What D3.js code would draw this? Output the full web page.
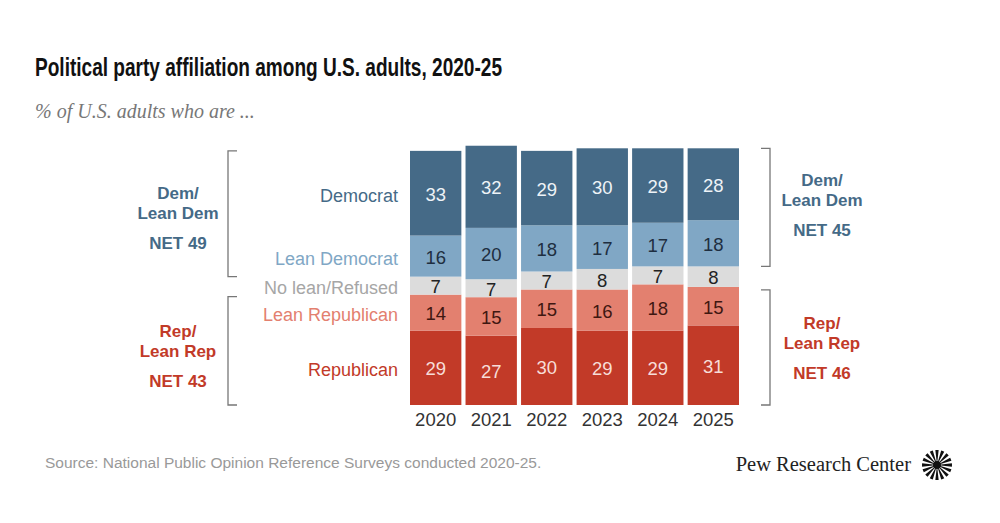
<!DOCTYPE html>
<html>
<head>
<meta charset="utf-8">
<script src="https://cdn.jsdelivr.net/npm/d3@7"></script>
<style>
  body { margin: 0; background: #fff; }
  svg text { font-family: "Liberation Sans", Arial, sans-serif; }
</style>
</head>
<body>
<script>

// chart data
var years = ["2020", "2021", "2022", "2023", "2024", "2025"];
var categories = ["Democrat", "Lean Democrat", "No lean/Refused", "Lean Republican", "Republican"];
var democrat = [33, 32, 29, 30, 29, 28];
var leanDemocrat = [16, 20, 18, 17, 17, 18];
var noLean = [7, 7, 7, 8, 7, 8];
var leanRepublican = [14, 15, 15, 16, 18, 15];
var republican = [29, 27, 30, 29, 29, 31];
var netDem = [49, 45];
var netRep = [43, 46];

var width = 1000, height = 523;

// colours for each category
var fills = ["#456a87", "#80a7c5", "#dcdcdc", "#e3806f", "#c23a28"];
var labelColors = ["#456a87", "#80a7c5", "#a6a6a6", "#e3806f", "#c23a28"];
var valueColors = ["#eef3f7", "#1e2e40", "#222222", "#3f1711", "#f7ddd8"];

var svg = d3.select("body").append("svg")
  .attr("width", width)
  .attr("height", height);

// title and subtitle
svg.append("text")
  .attr("x", 35).attr("y", 76)
  .style("font-family", "'Liberation Sans Narrow', 'Liberation Sans', sans-serif")
  .style("font-weight", "bold")
  .style("font-size", "26px")
  .attr("fill", "#111")
  .attr("textLength", 467)
  .attr("lengthAdjust", "spacingAndGlyphs")
  .text("Political party affiliation among U.S. adults, 2020-25");

svg.append("text")
  .attr("x", 35).attr("y", 118)
  .style("font-family", "'Liberation Serif', 'DejaVu Serif', serif")
  .style("font-style", "italic")
  .style("font-size", "20px")
  .attr("fill", "#777")
  .text("% of U.S. adults who are ...");

// build stacked rows: one object per year
var rows = years.map(function(y, i) {
  return {
    year: y,
    "Democrat": democrat[i],
    "Lean Democrat": leanDemocrat[i],
    "No lean/Refused": noLean[i],
    "Lean Republican": leanRepublican[i],
    "Republican": republican[i]
  };
});

// stack from the bottom: republican first
var stackOrder = categories.slice().reverse();
var stacked = d3.stack().keys(stackOrder)(rows);

var baseline = 405;
var yScale = d3.scaleLinear().domain([0, 100]).range([baseline, baseline - 256.7]);
var xScale = d3.scaleBand().domain(years).range([410, 739]).paddingInner(0.075).paddingOuter(0);

var layers = svg.selectAll("g.layer")
  .data(stacked)
  .enter().append("g")
  .attr("class", "layer");

layers.selectAll("rect")
  .data(function(d) { return d.map(function(p) { p.key = d.key; return p; }); })
  .enter().append("rect")
  .attr("x", function(d) { return xScale(d.data.year); })
  .attr("y", function(d) { return yScale(d[1]); })
  .attr("width", xScale.bandwidth())
  .attr("height", function(d) { return yScale(d[0]) - yScale(d[1]); })
  .attr("fill", function(d) { return fills[categories.indexOf(d.key)]; });

layers.selectAll("text")
  .data(function(d) { return d; })
  .enter().append("text")
  .attr("x", function(d) { return xScale(d.data.year) + xScale.bandwidth() / 2; })
  .attr("y", function(d) { return (yScale(d[0]) + yScale(d[1])) / 2 + 1; })
  .attr("dy", "0.36em")
  .attr("text-anchor", "middle")
  .style("font-size", "18.5px")
  .attr("fill", function(d) { return valueColors[categories.indexOf(d.key)]; })
  .text(function(d) { return d[1] - d[0]; });

// year axis
var xAxis = d3.axisBottom(xScale).tickSize(0).tickPadding(8);
var axisG = svg.append("g")
  .attr("transform", "translate(0," + baseline + ")")
  .call(xAxis);
axisG.select(".domain").remove();
axisG.selectAll("text")
  .style("font-family", "'Liberation Sans', Arial, sans-serif")
  .style("font-size", "18.5px")
  .attr("fill", "#333");

// category labels next to the first bar
var first = years[0];
svg.selectAll("text.catLabel")
  .data(stacked)
  .enter().append("text")
  .attr("class", "catLabel")
  .attr("x", 398)
  .attr("y", function(d) {
    var p = d.find(function(e) { return e.data.year === first; });
    return (yScale(p[0]) + yScale(p[1])) / 2 + 2;
  })
  .attr("dy", "0.36em")
  .attr("text-anchor", "end")
  .style("font-size", "18px")
  .attr("fill", function(d) { return labelColors[categories.indexOf(d.key)]; })
  .text(function(d) { return d.key; });

// brackets with net labels
function bracket(x, tick, y0, y1) {
  svg.append("path")
    .attr("d", "M" + (x + tick) + "," + y0 + "H" + x + "V" + y1 + "H" + (x + tick))
    .attr("fill", "none")
    .attr("stroke", "#777")
    .attr("stroke-width", 1.3);
}

function netLabel(cx, y, lines, net, color) {
  var g = svg.append("g");
  lines.forEach(function(l, i) {
    g.append("text")
      .attr("x", cx).attr("y", y + i * 20)
      .attr("text-anchor", "middle")
      .style("font-size", "17px")
      .style("font-weight", "bold")
      .attr("fill", color)
      .text(l);
  });
  g.append("text")
    .attr("x", cx).attr("y", y + lines.length * 20 + 10)
    .attr("text-anchor", "middle")
    .style("font-size", "17px")
    .style("font-weight", "bold")
    .attr("fill", color)
    .text("NET " + net);
}

// left side follows the first year, right side the last year
var demTop = function(i) { return yScale(republican[i] + leanRepublican[i] + noLean[i] + leanDemocrat[i] + democrat[i]); };
var demBottom = function(i) { return yScale(republican[i] + leanRepublican[i] + noLean[i]); };
var repTop = function(i) { return yScale(republican[i] + leanRepublican[i]); };

bracket(228, 9, demTop(0), demBottom(0));
bracket(228, 9, repTop(0) + 2, baseline);
bracket(770, -9, demTop(5), demBottom(5));
bracket(770, -9, repTop(5) + 3, baseline);

netLabel(178, 199, ["Dem/", "Lean Dem"], netDem[0], "#456a87");
netLabel(178, 337, ["Rep/", "Lean Rep"], netRep[0], "#c23a28");
netLabel(822, 186, ["Dem/", "Lean Dem"], netDem[1], "#456a87");
netLabel(822, 329, ["Rep/", "Lean Rep"], netRep[1], "#c23a28");

// source note
svg.append("text")
  .attr("x", 45).attr("y", 468)
  .style("font-size", "15.5px")
  .attr("fill", "#999")
  .text("Source: National Public Opinion Reference Surveys conducted 2020-25.");

// logo
svg.append("text")
  .attr("x", 911).attr("y", 471)
  .attr("text-anchor", "end")
  .style("font-family", "'Liberation Serif', 'DejaVu Serif', serif")
  .style("font-size", "20.5px")
  .attr("fill", "#222")
  .text("Pew Research Center");

var sun = svg.append("g").attr("transform", "translate(937,465)");
var rays = d3.range(16);
var arc = d3.arc().innerRadius(2).outerRadius(15);
sun.selectAll("path")
  .data(rays)
  .enter().append("path")
  .attr("d", function(i) {
    var a = i * 2 * Math.PI / 16;
    return arc({ startAngle: a - 0.11, endAngle: a + 0.11 });
  })
  .attr("fill", "#111");
sun.append("circle").attr("r", 4).attr("fill", "#111");

</script>
</body>
</html>
